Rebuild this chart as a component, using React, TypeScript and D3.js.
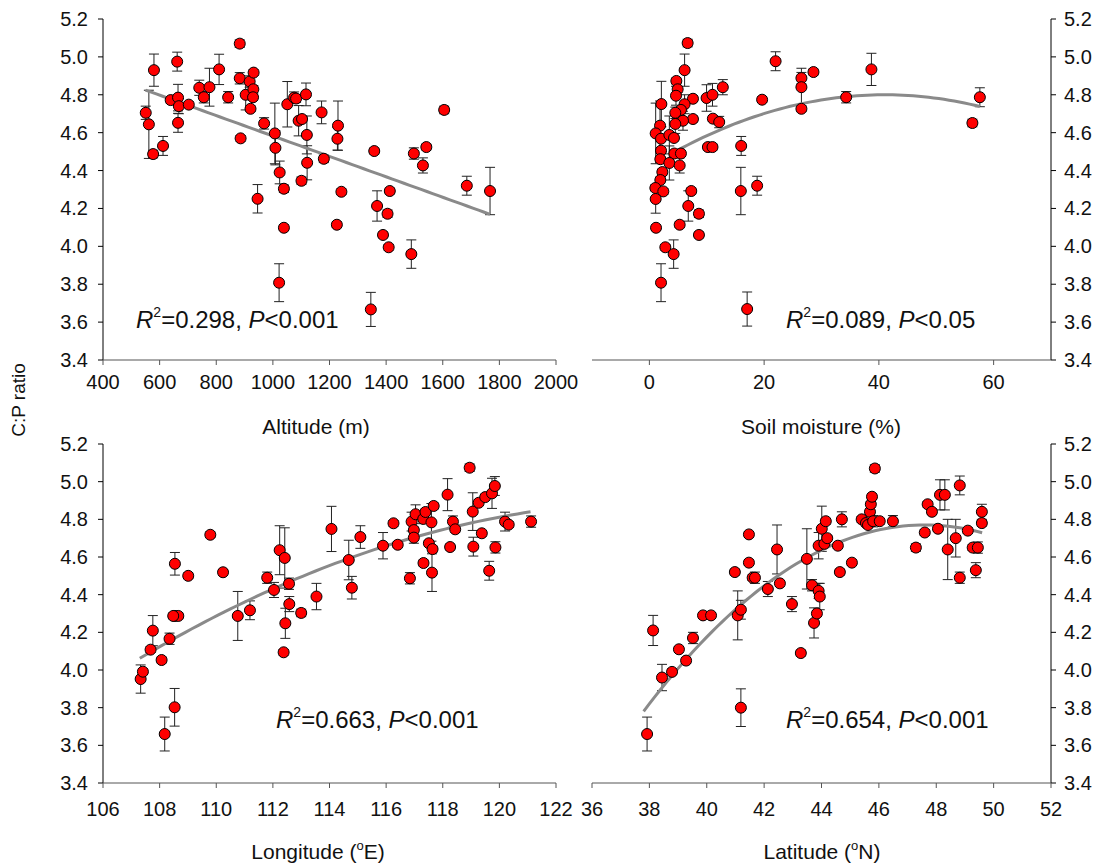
import React from "react";
import * as d3 from "d3";

// ---------- Data ----------
const altX = [551,562,580,577,612,639,662,665,668,665,703,740,756,776,810,842,883,883,886,904,918,932,931,930,921,969,1007,1009,1024,1039,946,1039,1022,1101,1051,1075,1082,1091,1103,1117,1120,1121,1172,1180,1230,1228,1226,1242,1358,1498,1542,1530,1605,1685,1767,1413,1368,1405,1389,1409,1489,1346];
const altY = [4.705,4.644,4.93,4.487,4.53,4.772,4.975,4.785,4.74,4.652,4.748,4.837,4.787,4.84,4.934,4.787,5.07,4.887,4.57,4.80,4.87,4.917,4.829,4.787,4.726,4.649,4.596,4.52,4.39,4.304,4.251,4.098,3.808,4.346,4.75,4.785,4.78,4.663,4.672,4.802,4.588,4.441,4.707,4.462,4.637,4.568,4.114,4.288,4.503,4.49,4.524,4.427,4.72,4.32,4.292,4.292,4.213,4.172,4.06,3.995,3.959,3.667];
const altErr = [0.035,0.18,0.085,0.02,0.05,0.015,0.05,0.07,0.04,0.05,0.015,0.04,0.03,0.1,0.08,0.03,0.02,0.03,0.015,0.08,0.03,0.015,0.02,0.015,0.015,0.03,0.16,0.09,0.06,0.02,0.075,0.015,0.1,0.02,0.12,0.03,0.02,0.08,0.015,0.06,0.1,0.09,0.06,0.02,0.13,0.06,0.015,0.015,0.015,0.03,0.015,0.04,0.02,0.05,0.125,0.015,0.08,0.02,0.015,0.015,0.075,0.09];

const smX = [6.67,6.14,4.7,4.93,4.64,2.09,7.6,6.14,5.5,4.52,9.97,11.0,12.8,7.6,5.86,4.52,11.07,12.17,1.86,1.1,2.03,3.48,4.29,10.2,11.0,16.0,2.03,1.91,4.35,5.5,3.48,5.28,2.26,1.91,1.04,2.43,7.3,15.94,18.78,22.0,19.65,26.5,26.5,28.6,26.5,1.1,6.78,8.64,1.16,5.28,8.64,2.78,4.23,2.03,17.04,34.3,38.7,56.3,57.6];
const smY = [5.073,4.93,4.873,4.829,4.795,4.751,4.779,4.75,4.72,4.705,4.783,4.8,4.84,4.672,4.663,4.646,4.674,4.656,4.637,4.596,4.568,4.588,4.572,4.524,4.524,4.53,4.505,4.46,4.49,4.49,4.44,4.427,4.392,4.35,4.308,4.29,4.292,4.292,4.32,4.977,4.774,4.888,4.84,4.92,4.726,4.25,4.213,4.172,4.098,4.114,4.06,3.995,3.959,3.808,3.669,4.787,4.934,4.651,4.787];
const smErr = [0.02,0.085,0.015,0.015,0.05,0.12,0.015,0.05,0.015,0.03,0.07,0.06,0.04,0.015,0.05,0.05,0.015,0.03,0.13,0.16,0.015,0.1,0.015,0.015,0.015,0.05,0.015,0.015,0.015,0.015,0.09,0.04,0.015,0.015,0.015,0.015,0.015,0.125,0.05,0.05,0.015,0.03,0.1,0.015,0.015,0.075,0.08,0.02,0.015,0.015,0.015,0.015,0.075,0.1,0.09,0.03,0.085,0.02,0.05];

const lonX = [108.54,109.01,109.79,110.24,111.8,112.04,112.24,112.42,112.57,112.58,113.0,113.54,110.76,111.19,108.54,108.66,114.07,107.33,107.41,107.68,107.76,108.07,108.35,108.18,108.53,108.48,112.44,112.38,114.68,114.79,115.09,115.89,116.26,116.41,116.84,116.9,117.04,116.98,116.98,117.31,117.39,117.32,117.51,117.6,117.64,117.62,117.68,118.17,118.26,118.36,118.44,118.95,119.06,119.08,119.27,119.5,119.74,119.84,119.38,119.86,119.64,120.2,120.33,121.12];
const lonY = [4.564,4.5,4.718,4.519,4.49,4.425,4.636,4.595,4.458,4.35,4.303,4.39,4.287,4.317,4.287,4.287,4.749,3.952,3.991,4.108,4.209,4.053,4.166,3.66,3.802,4.287,4.248,4.094,4.584,4.437,4.706,4.66,4.779,4.665,4.487,4.788,4.827,4.743,4.703,4.802,4.839,4.568,4.673,4.784,4.642,4.517,4.871,4.931,4.653,4.788,4.747,5.074,4.841,4.655,4.888,4.918,4.938,4.977,4.726,4.651,4.527,4.788,4.772,4.788];
const lonErr = [0.06,0.015,0.015,0.015,0.03,0.04,0.13,0.16,0.03,0.04,0.02,0.07,0.13,0.05,0.015,0.015,0.12,0.075,0.015,0.015,0.08,0.015,0.03,0.09,0.1,0.015,0.08,0.015,0.105,0.06,0.06,0.07,0.015,0.015,0.03,0.05,0.05,0.015,0.03,0.015,0.015,0.015,0.015,0.1,0.015,0.1,0.015,0.085,0.015,0.03,0.015,0.02,0.1,0.05,0.015,0.015,0.08,0.05,0.015,0.03,0.05,0.05,0.015,0.03];

const latX = [37.92,38.13,38.44,38.79,39.03,39.28,39.52,39.87,40.15,40.98,41.08,41.19,41.19,41.47,41.47,41.6,41.68,42.13,42.45,42.55,42.97,43.28,43.49,43.67,43.74,43.84,43.9,43.94,43.9,44.01,44.1,44.15,44.2,44.57,44.64,44.71,45.06,45.4,45.55,45.62,45.69,45.72,45.76,45.8,45.86,46.03,46.49,47.29,47.6,47.7,47.85,48.06,48.13,48.3,48.4,48.68,48.82,48.82,49.1,49.27,49.38,49.45,49.59,49.59];
const latY = [3.66,4.21,3.96,3.99,4.11,4.05,4.17,4.29,4.29,4.52,4.29,4.32,3.80,4.57,4.72,4.49,4.49,4.43,4.64,4.46,4.35,4.09,4.59,4.45,4.25,4.30,4.42,4.39,4.66,4.75,4.67,4.79,4.70,4.66,4.52,4.80,4.57,4.80,4.78,4.77,4.84,4.88,4.92,4.79,5.07,4.79,4.79,4.65,4.73,4.88,4.84,4.75,4.93,4.93,4.64,4.70,4.98,4.49,4.74,4.65,4.53,4.65,4.84,4.78];
const latErr = [0.09,0.08,0.07,0.015,0.015,0.015,0.03,0.015,0.015,0.015,0.13,0.05,0.1,0.015,0.015,0.015,0.03,0.04,0.13,0.015,0.04,0.015,0.16,0.03,0.08,0.015,0.04,0.07,0.07,0.12,0.015,0.015,0.015,0.015,0.015,0.04,0.015,0.015,0.015,0.015,0.015,0.015,0.015,0.03,0.02,0.015,0.03,0.02,0.015,0.015,0.015,0.015,0.08,0.08,0.16,0.1,0.05,0.03,0.015,0.015,0.04,0.03,0.04,0.015];

// tick labels
const yTicks = [3.4, 3.6, 3.8, 4.0, 4.2, 4.4, 4.6, 4.8, 5.0, 5.2];
const altTicks = [400, 600, 800, 1000, 1200, 1400, 1600, 1800, 2000];
const smTicks = [0, 20, 40, 60];
const lonTicks = [106, 108, 110, 112, 114, 116, 118, 120, 122];
const latTicks = [36, 38, 40, 42, 44, 46, 48, 50, 52];

// fitted curves: value = a + b*(x - x0) + c*(x - x0)^2 over [from, to]
const altFit = { x0: 550, a: 4.825, b: -0.000539, c: 0, from: 550, to: 1767 };
const smFit = { x0: 41, a: 4.8, b: 0, c: -0.000225, from: 4.0, to: 57.6 };
const lonFit = { x0: 107.3, a: 4.062, b: 0.08962, c: -0.002409, from: 107.3, to: 121.1 };
const latFit = { x0: 47.6, a: 4.77, b: 0, c: -0.0103, from: 37.8, to: 49.6 };

const FONT = "'Liberation Sans', Arial, Helvetica, sans-serif";

type PanelProps = {
  xs: number[]; ys: number[]; errs: number[];
  xDomain: [number, number]; xTicks: number[];
  x0: number; x1: number; y0: number; y1: number;
  fit: { x0: number; a: number; b: number; c: number; from: number; to: number };
  rightAxis: boolean;
  stat: string[]; statX: number; statY: number;
  tickBaseline: number;
};

function Panel(p: PanelProps) {
  const x = d3.scaleLinear().domain(p.xDomain).range([p.x0, p.x1]);
  const y = d3.scaleLinear().domain([3.4, 5.2]).range([p.y1, p.y0]);
  const f = p.fit;
  const fx = (v: number) => f.a + f.b * (v - f.x0) + f.c * (v - f.x0) * (v - f.x0);
  const n = 60;
  const pts: [number, number][] = d3.range(n + 1).map((i) => {
    const v = f.from + ((f.to - f.from) * i) / n;
    return [v, fx(v)];
  });
  const line = d3.line<[number, number]>().x((d) => x(d[0])).y((d) => y(d[1]));
  const axX = p.rightAxis ? p.x1 : p.x0;
  const tickDir = p.rightAxis ? 1 : -1;
  return (
    <g>
      {/* y axis */}
      <line x1={axX} x2={axX} y1={p.y0} y2={p.y1} stroke="#000" strokeWidth={1} />
      {yTicks.map((t) => (
        <g key={t}>
          <line x1={axX} x2={axX + tickDir * 5} y1={y(t)} y2={y(t)} stroke="#000" />
          <text
            x={p.rightAxis ? axX + 13 : axX - 15}
            y={y(t) + 7}
            textAnchor={p.rightAxis ? "start" : "end"}
            fontSize={20}
            fontFamily={FONT}
            fill="#111"
          >
            {t.toFixed(1)}
          </text>
        </g>
      ))}
      {/* x axis */}
      <line x1={p.x0} x2={p.x1} y1={p.y1} y2={p.y1} stroke="#555" strokeWidth={1} />
      {p.xTicks.map((t) => (
        <g key={t}>
          <line x1={x(t)} x2={x(t)} y1={p.y1} y2={p.y1 + 5} stroke="#555" />
          <text x={x(t)} y={p.tickBaseline} textAnchor="middle" fontSize={20} fontFamily={FONT} fill="#111">
            {t}
          </text>
        </g>
      ))}
      {/* error bars */}
      {p.xs.map((v, i) => {
        const cx = x(v);
        const top = y(p.ys[i] + p.errs[i]);
        const bot = y(p.ys[i] - p.errs[i]);
        return (
          <g key={"e" + i} stroke="#222" strokeWidth={1}>
            <line x1={cx} x2={cx} y1={top} y2={bot} />
            <line x1={cx - 5} x2={cx + 5} y1={top} y2={top} />
            <line x1={cx - 5} x2={cx + 5} y1={bot} y2={bot} />
          </g>
        );
      })}
      {/* fit */}
      <path d={line(pts) || ""} fill="none" stroke="#8a8a8a" strokeWidth={3} />
      {/* points */}
      {p.xs.map((v, i) => (
        <circle key={"c" + i} cx={x(v)} cy={y(p.ys[i])} r={5.5} fill="#ff0000" stroke="#000" strokeWidth={1} />
      ))}
      {/* stat text */}
      <text x={p.statX} y={p.statY} fontSize={24} fontFamily={FONT} fill="#111">
        <tspan fontStyle="italic">R</tspan>
        <tspan fontSize={14} dy={-11}>2</tspan>
        <tspan dy={11}>{"=" + p.stat[0] + ", "}</tspan>
        <tspan fontStyle="italic">P</tspan>
        <tspan>{p.stat[1]}</tspan>
      </text>
    </g>
  );
}

export default function App() {
  const top = { y0: 19, y1: 360 };
  const bot = { y0: 444, y1: 783 };
  const left = { x0: 103, x1: 556 };
  const right = { x0: 592, x1: 1051 };
  return (
    <svg
      width={1099}
      height={868}
      style={{ position: "absolute", left: 0, top: 0, background: "#fff" }}
    >
      <rect width={1099} height={868} fill="#fff" />
      <Panel xs={altX} ys={altY} errs={altErr} xDomain={[400, 2000]} xTicks={altTicks}
        {...left} {...top} fit={altFit} rightAxis={false}
        stat={["0.298", "<0.001"]} statX={136} statY={328} tickBaseline={389} />
      <Panel xs={smX} ys={smY} errs={smErr} xDomain={[-10, 70]} xTicks={smTicks}
        {...right} {...top} fit={smFit} rightAxis={true}
        stat={["0.089", "<0.05"]} statX={786} statY={328} tickBaseline={389} />
      <Panel xs={lonX} ys={lonY} errs={lonErr} xDomain={[106, 122]} xTicks={lonTicks}
        {...left} {...bot} fit={lonFit} rightAxis={false}
        stat={["0.663", "<0.001"]} statX={276} statY={728} tickBaseline={816} />
      <Panel xs={latX} ys={latY} errs={latErr} xDomain={[36, 52]} xTicks={latTicks}
        {...right} {...bot} fit={latFit} rightAxis={true}
        stat={["0.654", "<0.001"]} statX={786} statY={728} tickBaseline={816} />

      {/* axis titles */}
      <text x={316} y={434} textAnchor="middle" fontSize={21} fontFamily={FONT} fill="#111">Altitude (m)</text>
      <text x={821} y={434} textAnchor="middle" fontSize={21} fontFamily={FONT} fill="#111">Soil moisture (%)</text>
      <text x={318} y={859} textAnchor="middle" fontSize={21} fontFamily={FONT} fill="#111">
        Longitude (<tspan fontSize={13} dy={-9}>o</tspan><tspan dy={9}>E)</tspan>
      </text>
      <text x={822} y={859} textAnchor="middle" fontSize={21} fontFamily={FONT} fill="#111">
        Latitude (<tspan fontSize={13} dy={-9}>o</tspan><tspan dy={9}>N)</tspan>
      </text>
      <text transform="translate(25,400) rotate(-90)" textAnchor="middle" fontSize={19} fontFamily={FONT} fill="#111">
        C:P ratio
      </text>
    </svg>
  );
}
